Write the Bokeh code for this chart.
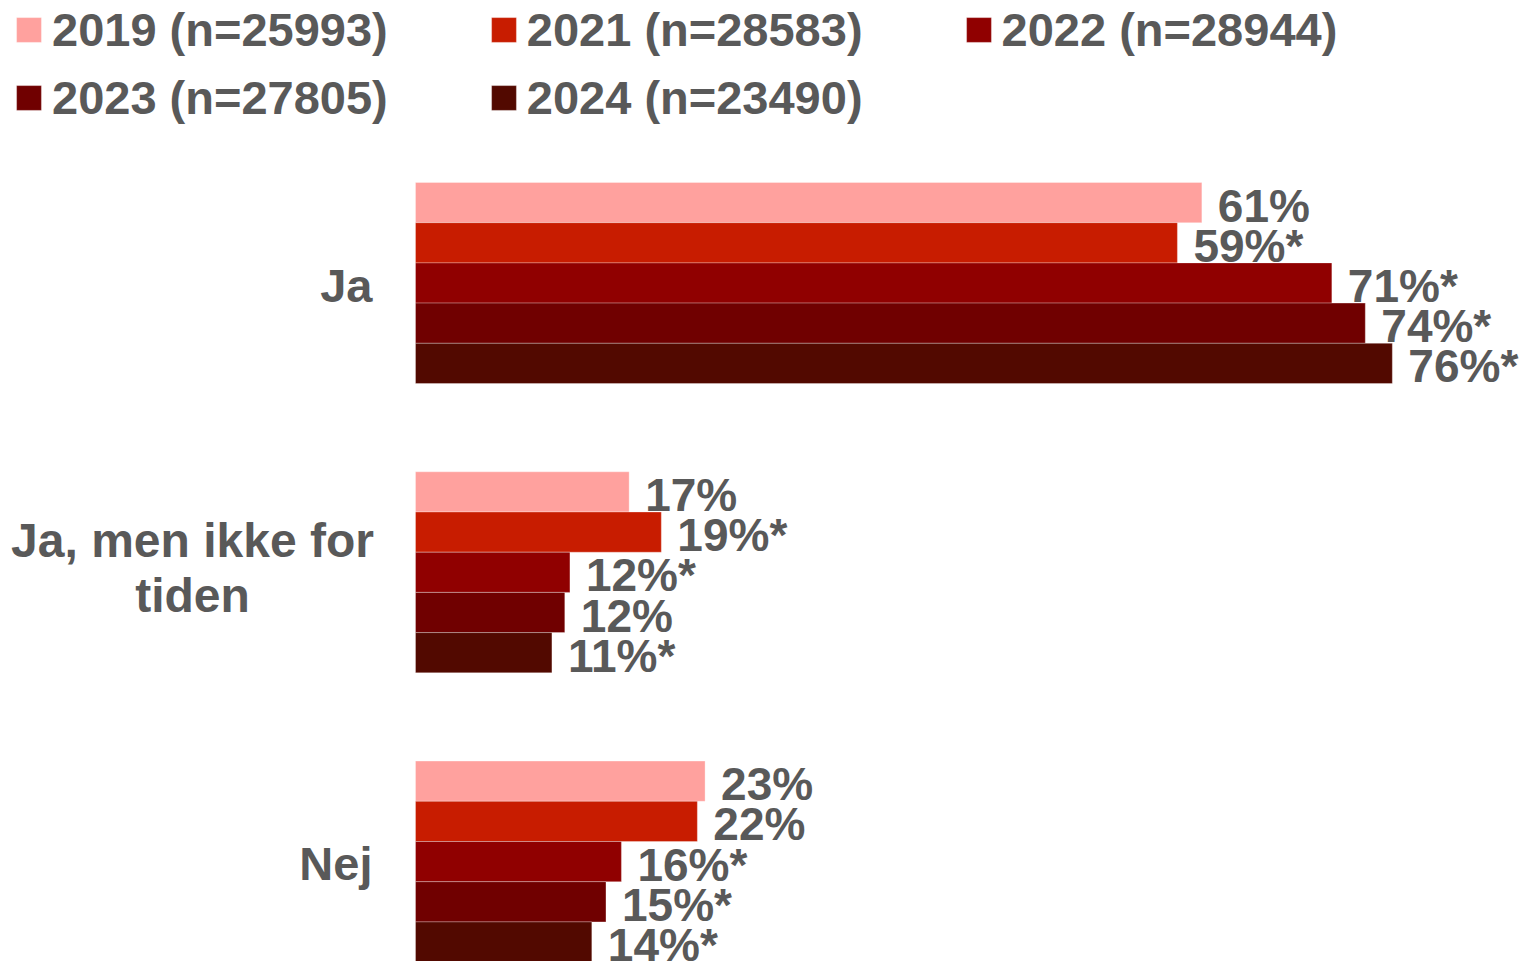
from bokeh.plotting import figure
from bokeh.models import ColumnDataSource, Range1d, Legend, LegendItem
from bokeh.core.properties import value
from bokeh.embed import file_html
from bokeh.resources import INLINE

# ---- data ----
categories = ["Ja", "Ja, men ikke for\ntiden", "Nej"]
series_names = ["2019 (n=25993)", "2021 (n=28583)", "2022 (n=28944)",
                "2023 (n=27805)", "2024 (n=23490)"]
v2019 = [61.1, 16.6, 22.5]
v2021 = [59.2, 19.1, 21.9]
v2022 = [71.2, 12.0, 16.0]
v2023 = [73.8, 11.6, 14.8]
v2024 = [75.9, 10.6, 13.7]
l2019 = ["61%", "17%", "23%"]
l2021 = ["59%*", "19%*", "22%"]
l2022 = ["71%*", "12%*", "16%*"]
l2023 = ["74%*", "12%", "15%*"]
l2024 = ["76%*", "11%*", "14%*"]
colors = ["#FFA19E", "#C81C00", "#900000", "#700000", "#520900"]

values = [v2019, v2021, v2022, v2023, v2024]
labels = [l2019, l2021, l2022, l2023, l2024]

# ---- layout constants ----
W, H = 1519, 961
BAR_PX = 40.2              # pixel height of one bar
PX_PER_PCT = 12.87
X0_PX = 415                # pixel position of 0%
TOP_PX = 182               # pixel top of first bar
GROUP_PITCH = 289.3 / BAR_PX
n_series = len(series_names)

FONT_NAME = "Liberation Sans"
FONT = value(FONT_NAME)
TXT = "#595959"

x_start = -X0_PX / PX_PER_PCT
x_end = (W - X0_PX) / PX_PER_PCT
y_top = -TOP_PX / BAR_PX
y_bot = (H - TOP_PX) / BAR_PX

p = figure(width=W, height=H, output_backend="svg", toolbar_location=None,
           x_range=Range1d(x_start, x_end), y_range=Range1d(y_bot, y_top),
           min_border=0, outline_line_color=None)
p.axis.visible = False
p.grid.visible = False
p.background_fill_color = "white"

renderers = []
for i, (name, vals, labs, col) in enumerate(zip(series_names, values, labels, colors)):
    ys = [g * GROUP_PITCH + i + 0.5 for g in range(len(categories))]
    src = ColumnDataSource(dict(y=ys, v=vals, lab=labs))
    r = p.hbar(y="y", left=0, right="v", height=1.0, source=src,
               fill_color=col, line_color="white", line_width=0.6, line_alpha=0.5)
    renderers.append((name, r))
    p.text(x="v", y="y", text="lab", source=src, x_offset=16, y_offset=3,
           text_font=FONT, text_font_style="bold", text_font_size="46px",
           text_color=TXT, text_align="left", text_baseline="middle")

# category labels
cy = [g * GROUP_PITCH + n_series / 2 for g in range(len(categories))]
single = [(c, y) for c, y in zip(categories, cy) if "\n" not in c]
multi = [(c, y) for c, y in zip(categories, cy) if "\n" in c]
if single:
    s1 = ColumnDataSource(dict(t=[c for c, _ in single], y=[y for _, y in single], x=[0] * len(single)))
    p.text(x="x", y="y", text="t", source=s1, x_offset=-43, y_offset=2,
           text_font=FONT, text_font_style="bold", text_font_size="47px",
           text_color=TXT, text_align="right", text_baseline="middle")
if multi:
    s2 = ColumnDataSource(dict(t=[c for c, _ in multi], y=[y for _, y in multi], x=[0] * len(multi)))
    p.text(x="x", y="y", text="t", source=s2, x_offset=-223, y_offset=-4,
           text_font=FONT, text_font_style="bold", text_font_size="48px",
           text_color=TXT, text_align="center", text_baseline="middle",
           text_line_height=1.04)

# legends (two rows)
def make_legend(items, loc):
    lg = Legend(items=[LegendItem(label=n, renderers=[r]) for n, r in items],
                orientation="horizontal", location=loc,
                glyph_width=31, glyph_height=31, label_standoff=8,
                spacing=100, padding=0, margin=0,
                label_text_font=FONT_NAME, label_text_font_style="bold",
                label_text_font_size="47px", label_text_color=TXT,
                border_line_color=None, background_fill_alpha=0)
    p.add_layout(lg)
    return lg

make_legend(renderers[:3], (13, 904))
make_legend(renderers[3:], (13, 836))

open("out.html", "w").write(file_html(p, INLINE))
